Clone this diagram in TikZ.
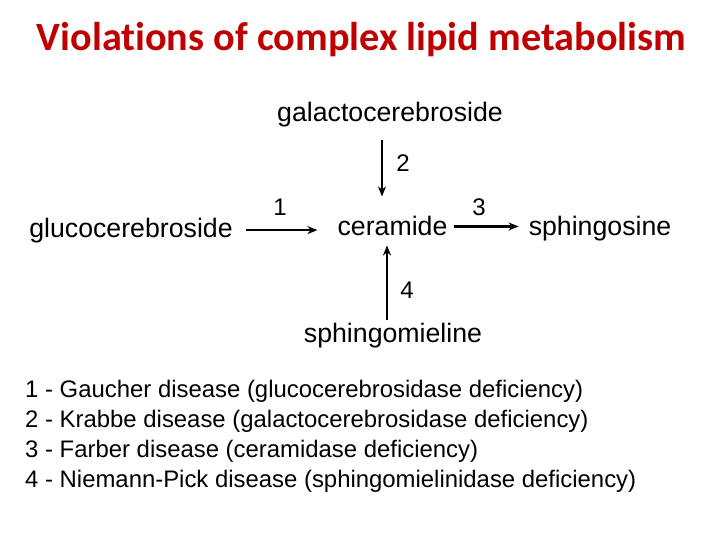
\documentclass[tikz,border=0pt]{standalone}
\usepackage{fontspec}
\setmainfont{Liberation Sans}
\newfontfamily\titlefont[Ligatures=CommonOff]{Carlito}
\usepackage{xcolor}
\usetikzlibrary{arrows.meta,
positioning,
calc}
\definecolor{titlered}{RGB}{192,0,0}

\begin{document}
\begin{tikzpicture}[
				x=1pt, y=-1pt,
				lipid/.style={
					inner sep=0pt,
					anchor=base,
					font=\fontsize{26.7}{30}\selectfont
				},
				enzyme/.style={
					inner sep=0pt,
					font=\fontsize{24}{28}\selectfont
				},
				reaction/.style={
					-{Stealth[length=10pt,width=8pt]},
					line width=2.2pt
				}
				]
				\useasboundingbox (0,0) rectangle (720,540);
				\node[anchor=base, inner sep=0pt, text=titlered,
					font=\titlefont\bfseries\fontsize{40.2}{46}\selectfont] (title) at (361.5,51) {Violations of complex lipid metabolism};
				
				\node[lipid] (galacto) at (390,122) {galactocerebroside};
				\node[lipid] (gluco) at (131,237) {glucocerebroside};
				\node[lipid] (ceramide) at (392.5,236) {ceramide};
				\node[lipid] (sphingosine) at (600,236) {sphingosine};
				\node[lipid] (sphingomieline) at (393,342) {sphingomieline};
				
				\node[enzyme] (n1) at (280,207) {1};
				\node[enzyme] (n2) at (403,163) {2};
				\node[enzyme] (n3) at (479,207) {3};
				\node[enzyme] (n4) at (407,290) {4};
				
				\draw[reaction, shorten <=13pt, shorten >=20pt] (gluco.east) -- (gluco.east -| ceramide.west);
				\draw[reaction, shorten <=12pt, shorten >=20pt] ([xshift=-8pt]galacto.south) -- ([xshift=-8pt]galacto.south |- ceramide.north);
				\draw[reaction, shorten <=6pt, shorten >=10pt] (ceramide.east) -- (ceramide.east -| sphingosine.west);
				\draw[reaction, shorten <=2pt, shorten >=9pt] ([xshift=-6pt]sphingomieline.north) -- ([xshift=-6pt]sphingomieline.north |- ceramide.south);
				
				\node[anchor=north west, inner sep=0pt, align=left,
					font=\fontsize{23.9}{30}\selectfont] (legend) at (25,380) {1 - Gaucher disease (glucocerebrosidase deficiency)\\
					2 - Krabbe disease (galactocerebrosidase deficiency)\\
					3 - Farber disease (ceramidase deficiency)\\
					4 - Niemann-Pick disease (sphingomielinidase deficiency)};
			\end{tikzpicture}
\end{document}
